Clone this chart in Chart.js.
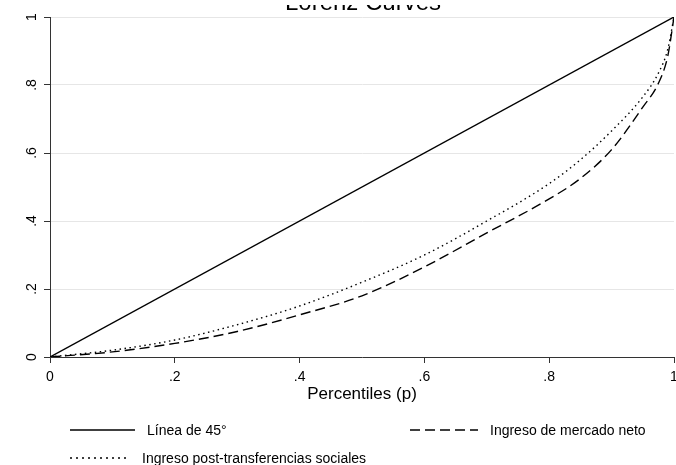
<!DOCTYPE html>
<html>
<head>
<meta charset="utf-8">
<script src="https://cdn.jsdelivr.net/npm/chart.js@4"></script>
<style>
  html, body { margin: 0; padding: 0; background: #fff; }
  #wrap { width: 676px; height: 465px; }
</style>
</head>
<body>
<div id="wrap"><canvas id="lorenz" width="676" height="465"></canvas></div>
<script>
// cumulative population share and income shares
const percentiles = [0, 0.1, 0.2, 0.3, 0.4, 0.5, 0.6, 0.7, 0.8, 0.85, 0.9, 0.95, 0.975, 0.99, 1]
const marketNet = [0, 0.015, 0.04, 0.075, 0.124, 0.18, 0.265, 0.365, 0.465, 0.525, 0.61, 0.735, 0.805, 0.885, 1]
const postTransfer = [0, 0.02, 0.05, 0.095, 0.15, 0.22, 0.30, 0.40, 0.51, 0.58, 0.665, 0.765, 0.835, 0.905, 1]
const equality = [0, 1]
const equalityP = [0, 1]
const tickValues = [0, 0.2, 0.4, 0.6, 0.8, 1]

const FONT = '"Liberation Sans", Arial, sans-serif'
const INK = '#000'
const AXIS = '#333'

const toPoints = (xs, ys) => xs.map((x, i) => ({ x, y: ys[i] }))
const fmt = v => {
    const r = Math.round(v * 10) / 10
    return r === 0 ? '0' : r === 1 ? '1' : String(r).replace(/^0\./, '.')
}

// legend slots: [row, sample start x, sample end x]
const legendSlots = [[0, 70, 135], [0, 410, 478], [1, 70, 130]]

const stataText = {
    id: 'stataText',
    afterDraw(chart) {
        const { ctx, chartArea, scales } = chart
        ctx.save()

        // title, cut at the top band
        ctx.save()
        ctx.beginPath()
        ctx.rect(0, 5, chart.width, 20)
        ctx.clip()
        ctx.fillStyle = INK
        ctx.font = '24px ' + FONT
        ctx.textAlign = 'center'
        ctx.textBaseline = 'alphabetic'
        ctx.fillText('Lorenz Curves', 363, 10)
        ctx.restore()

        ctx.fillStyle = INK
        ctx.font = '14px ' + FONT

        // y tick labels, rotated
        scales.y.ticks.forEach(t => {
            const py = scales.y.getPixelForValue(t.value)
            ctx.save()
            ctx.translate(32, py)
            ctx.rotate(-Math.PI / 2)
            ctx.textAlign = 'center'
            ctx.textBaseline = 'middle'
            ctx.fillText(fmt(t.value), 0, 0)
            ctx.restore()
        })

        // x tick labels
        ctx.textAlign = 'center'
        ctx.textBaseline = 'top'
        scales.x.ticks.forEach(t => {
            ctx.fillText(fmt(t.value), scales.x.getPixelForValue(t.value), 370)
        })

        // x axis title
        ctx.font = '17px ' + FONT
        ctx.fillText('Percentiles (p)', (chartArea.left + chartArea.right) / 2, 386)

        // legend
        ctx.font = '14px ' + FONT
        ctx.textAlign = 'left'
        ctx.textBaseline = 'middle'
        chart.data.datasets.forEach((ds, i) => {
            const [row, x0, x1] = legendSlots[i]
            const y = 430 + row * 28
            ctx.save()
            ctx.strokeStyle = ds.borderColor
            ctx.lineWidth = ds.borderWidth
            ctx.setLineDash(ds.legendDash || [])
            ctx.beginPath()
            ctx.moveTo(x0, y)
            ctx.lineTo(x1, y)
            ctx.stroke()
            ctx.restore()
            ctx.fillText(ds.label, x1 + 12, y + 1)
        })

        ctx.restore()
    }
}

new Chart(document.getElementById('lorenz'), {
    type: 'line',
    data: {
        datasets: [
            {
                label: 'Línea de 45°',
                data: toPoints(equalityP, equality),
                borderColor: INK,
                borderWidth: 1.4
            },
            {
                label: 'Ingreso de mercado neto',
                data: toPoints(percentiles, marketNet),
                borderColor: INK,
                borderWidth: 1.4,
                borderDash: [10, 5],
                legendDash: [10, 5]
            },
            {
                label: 'Ingreso post-transferencias sociales',
                data: toPoints(percentiles, postTransfer),
                borderColor: INK,
                borderWidth: 1.4,
                borderDash: [1.5, 3.5],
                legendDash: [2, 4]
            }
        ]
    },
    options: {
        responsive: false,
        animation: false,
        layout: { padding: { top: 17, right: 2, left: 0, bottom: 0 } },
        elements: {
            point: { radius: 0 },
            line: { cubicInterpolationMode: 'monotone', fill: false }
        },
        plugins: {
            legend: { display: false },
            title: { display: false },
            tooltip: { enabled: false }
        },
        scales: {
            x: {
                type: 'linear',
                min: 0,
                max: 1,
                afterBuildTicks: s => { s.ticks = tickValues.map(value => ({ value })) },
                afterFit: s => { s.height = 108 },
                ticks: { display: false },
                grid: { drawOnChartArea: false, tickLength: 6, tickColor: AXIS, tickWidth: 1 },
                border: { color: AXIS, width: 1 }
            },
            y: {
                min: 0,
                max: 1,
                afterBuildTicks: s => { s.ticks = tickValues.map(value => ({ value })) },
                afterFit: s => { s.width = 50 },
                ticks: { display: false },
                grid: { color: '#e6e6e6', lineWidth: 1, tickLength: 6, tickColor: AXIS, tickWidth: 1 },
                border: { color: AXIS, width: 1 }
            }
        }
    },
    plugins: [stataText]
})
</script>
</body>
</html>
